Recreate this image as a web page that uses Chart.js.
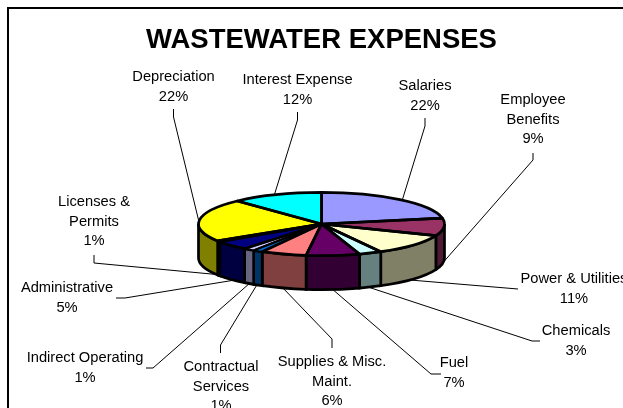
<!DOCTYPE html>
<html>
<head>
<meta charset="utf-8">
<style>html,body{margin:0;padding:0;background:#fff}canvas{display:block}</style>
<script src="https://cdn.jsdelivr.net/npm/chart.js@4"></script>
</head>
<body>
<canvas id="c" width="623" height="408"></canvas>
<script>
const chartTitle = "WASTEWATER EXPENSES";
const categories = ["Salaries","Employee Benefits","Power & Utilities","Chemicals","Fuel","Supplies & Misc. Maint.","Contractual Services","Indirect Operating","Administrative","Licenses & Permits","Depreciation","Interest Expense"];
const values = [22,9,11,3,7,6,1.3,1.45,4.75,0.5,22,12];
const percentLabels = ["22%","9%","11%","3%","7%","6%","1%","1%","5%","1%","22%","12%"];
const topColors = ["#9999FF","#993366","#FFFFCC","#CCFFFF","#660066","#FF8080","#0066CC","#CCCCFF","#000080","#000000","#FFFF00","#00FFFF"];
const sideColors = ["#4D4D80","#4D1933","#808066","#668080","#330033","#804040","#003366","#666680","#000040","#000000","#808000","#008080"];
const labelLines = [["Salaries"],["Employee","Benefits"],["Power & Utilities"],["Chemicals"],["Fuel"],["Supplies & Misc.","Maint."],["Contractual","Services"],["Indirect Operating"],["Administrative"],["Licenses &","Permits"],["Depreciation"],["Interest Expense"]];
const labelCenters = [[425,86],[533,100],[574,279],[576,331],[454,363],[332,362],[221,367],[85,358],[67,288],[94,202],[173.5,77],[297.5,80]];
const leaderPaths = [
 [[425,118],[425,126],[402,201]],
 [[533,153],[533,160],[440,266]],
 [[518,289],[410,280]],
 [[540,341],[532,341],[365,286]],
 [[441,374],[431,374],[331,288]],
 [[332,348],[332,339],[281,286]],
 [[220.5,353],[220.5,345],[258,283]],
 [[146,368],[153,368],[250,283]],
 [[116,298],[125,298],[235,280]],
 [[94,255],[94,263],[222,275]],
 [[173.5,109],[173.5,117],[199,222]],
 [[297.5,112],[297.5,120],[274,196]]
];
const tilt = 0.257, depth = 34, edgeWidth = 2.7;

function facePath(ctx, a, from, to) {
  ctx.save();
  ctx.translate(a.x, a.y);
  ctx.scale(1, tilt);
  ctx.moveTo(0, 0);
  ctx.arc(0, 0, a.outerRadius, from, to);
  ctx.closePath();
  ctx.restore();
}
function sidePath(ctx, a, from, to) {
  const r = a.outerRadius;
  ctx.moveTo(a.x + r*Math.cos(from), a.y + tilt*r*Math.sin(from));
  ctx.ellipse(a.x, a.y, r, r*tilt, 0, from, to);
  ctx.lineTo(a.x + r*Math.cos(to), a.y + tilt*r*Math.sin(to) + depth);
  ctx.ellipse(a.x, a.y + depth, r, r*tilt, 0, to, from, true);
  ctx.closePath();
}
const pie3d = {
  id: "pie3d",
  beforeDraw(chart) {
    const ctx = chart.ctx;
    ctx.save();
    ctx.fillStyle = "#fff";
    ctx.fillRect(0, 0, chart.width, chart.height);
    ctx.strokeStyle = "#000";
    ctx.lineWidth = 2;
    ctx.strokeRect(8, 8, chart.width + 20, chart.height + 20);
    ctx.fillStyle = "#000";
    ctx.textAlign = "center";
    ctx.textBaseline = "middle";
    ctx.font = "bold 27.5px 'Liberation Sans', Arial, sans-serif";
    ctx.fillText(chartTitle, 321.5, 40);
    ctx.font = "14.7px 'Liberation Sans', Arial, sans-serif";
    categories.forEach((c, i) => {
      const lines = labelLines[i].concat(percentLabels[i]);
      lines.forEach((t, j) => ctx.fillText(t, labelCenters[i][0], labelCenters[i][1] + j*19.7));
    });
    ctx.lineWidth = 1;
    leaderPaths.forEach(p => {
      ctx.beginPath();
      p.forEach((q, j) => j ? ctx.lineTo(q[0], q[1]) : ctx.moveTo(q[0], q[1]));
      ctx.stroke();
    });
    ctx.restore();
  },
  beforeDatasetDraw(chart) {
    const ctx = chart.ctx, arcs = chart.getDatasetMeta(0).data;
    ctx.save();
    ctx.lineWidth = edgeWidth;
    ctx.lineJoin = "miter";
    ctx.miterLimit = 2;
    ctx.strokeStyle = "#000";
    arcs.forEach((a, i) => {
      const from = Math.max(a.startAngle, 0), to = Math.min(a.endAngle, Math.PI);
      if (to <= from) return;
      ctx.beginPath();
      sidePath(ctx, a, from, to);
      ctx.fillStyle = sideColors[i];
      ctx.fill();
      ctx.stroke();
    });
    ctx.restore();
    const a0 = arcs[0];
    ctx.save();
    ctx.translate(a0.x, a0.y);
    ctx.scale(1, tilt);
    ctx.translate(-a0.x, -a0.y);
  },
  afterDatasetDraw(chart) {
    const ctx = chart.ctx, arcs = chart.getDatasetMeta(0).data;
    ctx.restore();
    ctx.save();
    ctx.lineWidth = edgeWidth;
    ctx.lineJoin = "round";
    ctx.strokeStyle = "#000";
    ctx.beginPath();
    arcs.forEach(a => facePath(ctx, a, a.startAngle, a.endAngle));
    ctx.lineWidth = edgeWidth;
    arcs.forEach((a, i) => {
      ctx.beginPath();
      facePath(ctx, a, a.startAngle, a.endAngle);
      ctx.lineWidth = (i === 7 || i === 6) ? 2 : edgeWidth;
      ctx.stroke();
    });
    ctx.restore();
  }
};
new Chart(document.getElementById("c"), {
  type: "pie",
  data: {
    labels: categories,
    datasets: [{ data: values, backgroundColor: topColors, borderWidth: 0, clip: false }]
  },
  options: {
    responsive: false,
    animation: false,
    layout: { padding: { left: 198.5, right: 178.5, top: 101, bottom: 61 } },
    plugins: { legend: { display: false }, tooltip: { enabled: false }, title: { display: false } },
    events: []
  },
  plugins: [pie3d]
});
</script>
</body>
</html>
